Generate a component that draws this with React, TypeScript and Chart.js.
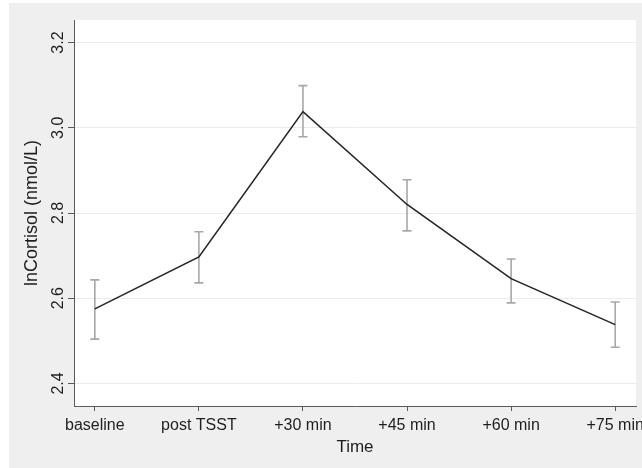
import React, { useEffect, useRef } from "react";
import { Chart, registerables } from "chart.js";

Chart.register(...registerables);

const categories = ["baseline", "post TSST", "+30 min", "+45 min", "+60 min", "+75 min"];
const means = [2.575, 2.697, 3.038, 2.82, 2.646, 2.538];
const lower = [2.504, 2.636, 2.979, 2.758, 2.589, 2.485];
const upper = [2.643, 2.756, 3.099, 2.878, 2.692, 2.591];
const yTicks = [2.4, 2.6, 2.8, 3.0, 3.2];
const yTitle = "lnCortisol (nmol/L)";
const xTitle = "Time";

const FONT = '"Liberation Sans", Arial, Helvetica, sans-serif';
const TEXT = "#1e1e1e";
const AXIS = "#5a5a5a";

export default function App() {
  const ref = useRef<HTMLCanvasElement | null>(null);

  useEffect(() => {
    const canvas = ref.current;
    if (!canvas) return;

    const decor = {
      id: "decor",
      beforeDraw(chart: any) {
        const { ctx, chartArea } = chart;
        ctx.save();
        ctx.fillStyle = "#ffffff";
        ctx.fillRect(0, 0, chart.width, chart.height);
        ctx.fillStyle = "#efefef";
        ctx.fillRect(9, 3, chart.width - 9, chart.height - 3);
        ctx.fillStyle = "#ffffff";
        ctx.fillRect(chartArea.left, chartArea.top, chartArea.right - chartArea.left, chartArea.bottom - chartArea.top);
        ctx.restore();
      },
      beforeDatasetsDraw(chart: any) {
        const { ctx } = chart;
        const xs = chart.scales.x;
        const ys = chart.scales.y;
        ctx.save();
        ctx.strokeStyle = "#a8a8a8";
        ctx.lineWidth = 1.6;
        for (let i = 0; i < means.length; i++) {
          const x = xs.getPixelForValue(i);
          const yl = ys.getPixelForValue(lower[i]);
          const yu = ys.getPixelForValue(upper[i]);
          ctx.beginPath();
          ctx.moveTo(x, yl);
          ctx.lineTo(x, yu);
          ctx.moveTo(x - 4.5, yl);
          ctx.lineTo(x + 4.5, yl);
          ctx.moveTo(x - 4.5, yu);
          ctx.lineTo(x + 4.5, yu);
          ctx.stroke();
        }
        ctx.restore();
      },
      afterDraw(chart: any) {
        const { ctx, chartArea } = chart;
        const xs = chart.scales.x;
        const ys = chart.scales.y;
        ctx.save();
        ctx.fillStyle = TEXT;
        // y tick labels (rotated)
        ctx.font = `16px ${FONT}`;
        ctx.textAlign = "center";
        ctx.textBaseline = "alphabetic";
        for (const v of yTicks) {
          const y = ys.getPixelForValue(v);
          ctx.save();
          ctx.translate(63, y);
          ctx.rotate(-Math.PI / 2);
          ctx.fillText(v.toFixed(1), 0, 0);
          ctx.restore();
        }
        // x tick labels
        ctx.font = `16px ${FONT}`;
        for (let i = 0; i < categories.length; i++) {
          const x = xs.getPixelForValue(i);
          ctx.fillText(categories[i], x, 430);
        }
        // titles
        const cx = (chartArea.left + chartArea.right) / 2;
        ctx.font = `17px ${FONT}`;
        ctx.fillText(xTitle, cx, 452);
        const cy = (chartArea.top + chartArea.bottom) / 2;
        ctx.font = `18px ${FONT}`;
        ctx.save();
        ctx.translate(37, cy);
        ctx.rotate(-Math.PI / 2);
        ctx.fillText(yTitle, 0, 0);
        ctx.restore();
        ctx.restore();
      },
    };

    const chart = new Chart(canvas, {
      type: "line",
      data: {
        datasets: [
          {
            data: means.map((v, i) => ({ x: i, y: v })),
            borderColor: "#262626",
            borderWidth: 1.6,
            pointRadius: 0,
            tension: 0,
            fill: false,
          },
        ],
      },
      options: {
        responsive: false,
        animation: false,
        events: [],
        layout: { padding: { left: 0, right: 6, top: 20, bottom: 0 } },
        plugins: { legend: { display: false }, tooltip: { enabled: false } },
        scales: {
          x: {
            type: "linear",
            min: -0.2,
            max: 5.2,
            afterBuildTicks: (s: any) => {
              s.ticks = categories.map((_, i) => ({ value: i }));
            },
            afterFit: (s: any) => {
              s.height = 62;
            },
            grid: { color: "rgba(0,0,0,0)", tickColor: AXIS, tickLength: 5, drawTicks: true, lineWidth: 1 },
            border: { display: true, color: AXIS, width: 1 },
            ticks: { display: false },
          },
          y: {
            type: "linear",
            min: 2.347,
            max: 3.253,
            afterBuildTicks: (s: any) => {
              s.ticks = yTicks.map((v) => ({ value: v }));
            },
            afterFit: (s: any) => {
              s.width = 74;
            },
            grid: { color: "#ebebeb", tickColor: AXIS, tickLength: 6, drawTicks: true, lineWidth: 1 },
            border: { display: true, color: AXIS, width: 1 },
            ticks: { display: false },
          },
        },
      },
      plugins: [decor],
    });

    return () => chart.destroy();
  }, []);

  return (
    <div style={{ position: "absolute", left: 0, top: 0, width: 642, height: 468 }}>
      <canvas ref={ref} width={642} height={468} style={{ display: "block", width: 642, height: 468 }} />
    </div>
  );
}
